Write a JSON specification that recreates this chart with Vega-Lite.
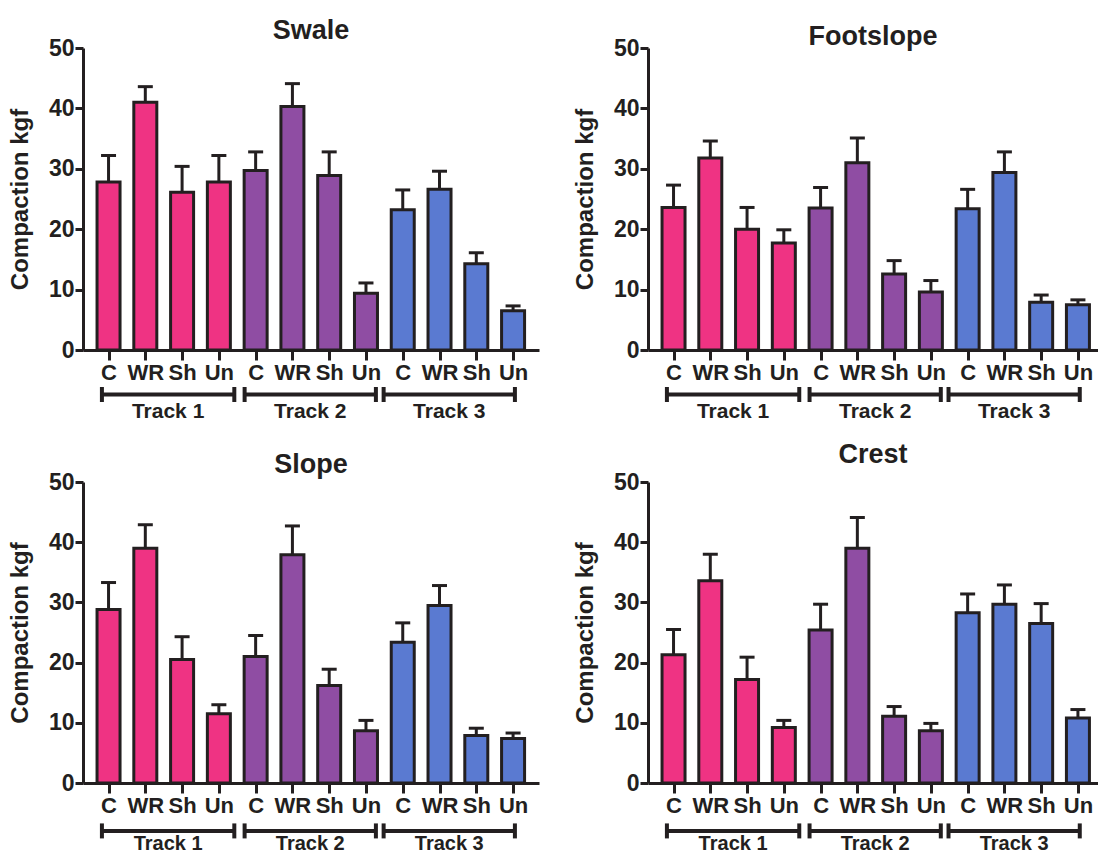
{
  "$schema": "https://vega.github.io/schema/vega-lite/v6.json",
  "background": "white",
  "padding": {"left": 8, "top": 17, "right": 0, "bottom": 0},
  "columns": 2,
  "spacing": {"row": 132, "column": 109},
  "bounds": "flush",
  "config": {
    "font": "Liberation Sans",
    "view": {"stroke": null},
    "axis": {
      "domainColor": "#231F20",
      "tickColor": "#231F20",
      "labelColor": "#231F20",
      "titleColor": "#231F20",
      "domainWidth": 3,
      "tickWidth": 3,
      "labelFontWeight": "bold",
      "titleFontWeight": "bold",
      "grid": false
    },
    "title": {"fontSize": 27, "fontWeight": "bold", "color": "#231F20"}
  },
  "datasets": {
    "bars": [
      {"site": "Swale", "track": "Track 1", "treatment": "C", "slot": 0, "mean": 27.8, "upper": 32.2},
      {"site": "Swale", "track": "Track 1", "treatment": "WR", "slot": 1, "mean": 41.0, "upper": 43.6},
      {"site": "Swale", "track": "Track 1", "treatment": "Sh", "slot": 2, "mean": 26.1, "upper": 30.4},
      {"site": "Swale", "track": "Track 1", "treatment": "Un", "slot": 3, "mean": 27.8, "upper": 32.2},
      {"site": "Swale", "track": "Track 2", "treatment": "C", "slot": 4, "mean": 29.7, "upper": 32.8},
      {"site": "Swale", "track": "Track 2", "treatment": "WR", "slot": 5, "mean": 40.3, "upper": 44.1},
      {"site": "Swale", "track": "Track 2", "treatment": "Sh", "slot": 6, "mean": 28.9, "upper": 32.8},
      {"site": "Swale", "track": "Track 2", "treatment": "Un", "slot": 7, "mean": 9.4, "upper": 11.1},
      {"site": "Swale", "track": "Track 3", "treatment": "C", "slot": 8, "mean": 23.2, "upper": 26.5},
      {"site": "Swale", "track": "Track 3", "treatment": "WR", "slot": 9, "mean": 26.6, "upper": 29.6},
      {"site": "Swale", "track": "Track 3", "treatment": "Sh", "slot": 10, "mean": 14.3, "upper": 16.1},
      {"site": "Swale", "track": "Track 3", "treatment": "Un", "slot": 11, "mean": 6.5, "upper": 7.3},
      {"site": "Footslope", "track": "Track 1", "treatment": "C", "slot": 0, "mean": 23.6, "upper": 27.3},
      {"site": "Footslope", "track": "Track 1", "treatment": "WR", "slot": 1, "mean": 31.8, "upper": 34.6},
      {"site": "Footslope", "track": "Track 1", "treatment": "Sh", "slot": 2, "mean": 20.0, "upper": 23.6},
      {"site": "Footslope", "track": "Track 1", "treatment": "Un", "slot": 3, "mean": 17.7, "upper": 19.9},
      {"site": "Footslope", "track": "Track 2", "treatment": "C", "slot": 4, "mean": 23.5, "upper": 26.9},
      {"site": "Footslope", "track": "Track 2", "treatment": "WR", "slot": 5, "mean": 31.0, "upper": 35.1},
      {"site": "Footslope", "track": "Track 2", "treatment": "Sh", "slot": 6, "mean": 12.6, "upper": 14.8},
      {"site": "Footslope", "track": "Track 2", "treatment": "Un", "slot": 7, "mean": 9.6, "upper": 11.5},
      {"site": "Footslope", "track": "Track 3", "treatment": "C", "slot": 8, "mean": 23.4, "upper": 26.6},
      {"site": "Footslope", "track": "Track 3", "treatment": "WR", "slot": 9, "mean": 29.4, "upper": 32.8},
      {"site": "Footslope", "track": "Track 3", "treatment": "Sh", "slot": 10, "mean": 7.9, "upper": 9.1},
      {"site": "Footslope", "track": "Track 3", "treatment": "Un", "slot": 11, "mean": 7.5, "upper": 8.3},
      {"site": "Slope", "track": "Track 1", "treatment": "C", "slot": 0, "mean": 28.8, "upper": 33.3},
      {"site": "Slope", "track": "Track 1", "treatment": "WR", "slot": 1, "mean": 39.0, "upper": 42.9},
      {"site": "Slope", "track": "Track 1", "treatment": "Sh", "slot": 2, "mean": 20.5, "upper": 24.3},
      {"site": "Slope", "track": "Track 1", "treatment": "Un", "slot": 3, "mean": 11.5, "upper": 13.0},
      {"site": "Slope", "track": "Track 2", "treatment": "C", "slot": 4, "mean": 21.0, "upper": 24.5},
      {"site": "Slope", "track": "Track 2", "treatment": "WR", "slot": 5, "mean": 37.9, "upper": 42.7},
      {"site": "Slope", "track": "Track 2", "treatment": "Sh", "slot": 6, "mean": 16.2, "upper": 18.9},
      {"site": "Slope", "track": "Track 2", "treatment": "Un", "slot": 7, "mean": 8.7, "upper": 10.4},
      {"site": "Slope", "track": "Track 3", "treatment": "C", "slot": 8, "mean": 23.4, "upper": 26.6},
      {"site": "Slope", "track": "Track 3", "treatment": "WR", "slot": 9, "mean": 29.5, "upper": 32.8},
      {"site": "Slope", "track": "Track 3", "treatment": "Sh", "slot": 10, "mean": 7.9, "upper": 9.1},
      {"site": "Slope", "track": "Track 3", "treatment": "Un", "slot": 11, "mean": 7.4, "upper": 8.3},
      {"site": "Crest", "track": "Track 1", "treatment": "C", "slot": 0, "mean": 21.3, "upper": 25.5},
      {"site": "Crest", "track": "Track 1", "treatment": "WR", "slot": 1, "mean": 33.6, "upper": 38.0},
      {"site": "Crest", "track": "Track 1", "treatment": "Sh", "slot": 2, "mean": 17.2, "upper": 20.9},
      {"site": "Crest", "track": "Track 1", "treatment": "Un", "slot": 3, "mean": 9.2, "upper": 10.4},
      {"site": "Crest", "track": "Track 2", "treatment": "C", "slot": 4, "mean": 25.4, "upper": 29.7},
      {"site": "Crest", "track": "Track 2", "treatment": "WR", "slot": 5, "mean": 39.0, "upper": 44.1},
      {"site": "Crest", "track": "Track 2", "treatment": "Sh", "slot": 6, "mean": 11.1, "upper": 12.7},
      {"site": "Crest", "track": "Track 2", "treatment": "Un", "slot": 7, "mean": 8.7, "upper": 9.9},
      {"site": "Crest", "track": "Track 3", "treatment": "C", "slot": 8, "mean": 28.3, "upper": 31.4},
      {"site": "Crest", "track": "Track 3", "treatment": "WR", "slot": 9, "mean": 29.7, "upper": 32.9},
      {"site": "Crest", "track": "Track 3", "treatment": "Sh", "slot": 10, "mean": 26.5, "upper": 29.8},
      {"site": "Crest", "track": "Track 3", "treatment": "Un", "slot": 11, "mean": 10.8, "upper": 12.2}
    ],
    "tracks": [
      {"track": "Track 1", "from": -0.18, "to": 3.42, "mid": 1.62},
      {"track": "Track 2", "from": 3.7, "to": 7.27, "mid": 5.485},
      {"track": "Track 3", "from": 7.48, "to": 11.05, "mid": 9.265}
    ]
  },
  "concat": [
    {
      "width": 456,
      "height": 302,
      "title": {"text": "Swale", "offset": -8},
      "layer": [
        {
          "data": {"name": "bars"},
          "transform": [{"filter": "datum.site === 'Swale'"}],
          "mark": {"type": "rule", "strokeWidth": 3, "color": "#231F20"},
          "encoding": {
            "x": {"field": "slot", "type": "quantitative", "scale": {"domain": [-0.5585, 11.569], "nice": false, "zero": false},
              "axis": {"title": null, "values": [0,1,2,3,4,5,6,7,8,9,10,11], "labelExpr": "['C','WR','Sh','Un'][datum.value % 4]", "labelFontSize": 22, "tickSize": 10, "labelPadding": 2, "labelFlush": false, "labelOverlap": false}},
            "y": {"field": "mean", "type": "quantitative", "scale": {"domain": [0, 50], "nice": false},
              "axis": {"title": "Compaction kgf", "values": [0,10,20,30,40,50], "labelFontSize": 23, "tickSize": 8, "labelPadding": 1, "titleFontSize": 24, "titlePadding": 16}},
            "y2": {"field": "upper"}
          }
        },
        {
          "data": {"name": "bars"},
          "transform": [{"filter": "datum.site === 'Swale'"}],
          "mark": {"type": "bar", "orient": "vertical", "width": 23, "stroke": "#231F20", "strokeWidth": 3},
          "encoding": {
            "x": {"field": "slot", "type": "quantitative"},
            "y": {"field": "mean", "type": "quantitative", "stack": null},
            "color": {"field": "track", "type": "nominal", "legend": null,
              "scale": {"domain": ["Track 1", "Track 2", "Track 3"], "range": ["#EF3383", "#8F4DA3", "#5A7AD1"]}}
          }
        },
        {
          "data": {"name": "bars"},
          "transform": [{"filter": "datum.site === 'Swale'"}],
          "mark": {"type": "tick", "orient": "horizontal", "size": 15, "thickness": 3, "opacity": 1, "color": "#231F20"},
          "encoding": {
            "x": {"field": "slot", "type": "quantitative"},
            "y": {"field": "upper", "type": "quantitative"}
          }
        },
        {
          "data": {"name": "tracks"},
          "mark": {"type": "rule", "strokeWidth": 4, "color": "#231F20"},
          "encoding": {
            "x": {"field": "from", "type": "quantitative"},
            "x2": {"field": "to"},
            "y": {"datum": -7.37, "type": "quantitative"}
          }
        },
        {
          "data": {"name": "tracks"},
          "mark": {"type": "tick", "orient": "vertical", "size": 15, "thickness": 4, "opacity": 1, "color": "#231F20"},
          "encoding": {
            "x": {"field": "from", "type": "quantitative"},
            "y": {"datum": -7.37, "type": "quantitative"}
          }
        },
        {
          "data": {"name": "tracks"},
          "mark": {"type": "tick", "orient": "vertical", "size": 15, "thickness": 4, "opacity": 1, "color": "#231F20"},
          "encoding": {
            "x": {"field": "to", "type": "quantitative"},
            "y": {"datum": -7.37, "type": "quantitative"}
          }
        },
        {
          "data": {"name": "tracks"},
          "mark": {"type": "text", "fontSize": 21, "fontWeight": "bold", "color": "#231F20", "baseline": "middle"},
          "encoding": {
            "x": {"field": "mid", "type": "quantitative"},
            "y": {"datum": -10.26, "type": "quantitative"},
            "text": {"field": "track"}
          }
        }
      ]
    },
    {
      "width": 450,
      "height": 302,
      "title": {"text": "Footslope", "offset": -14},
      "layer": [
        {
          "data": {"name": "bars"},
          "transform": [{"filter": "datum.site === 'Footslope'"}],
          "mark": {"type": "rule", "strokeWidth": 3, "color": "#231F20"},
          "encoding": {
            "x": {"field": "slot", "type": "quantitative", "scale": {"domain": [-0.5585, 11.41], "nice": false, "zero": false},
              "axis": {"title": null, "values": [0,1,2,3,4,5,6,7,8,9,10,11], "labelExpr": "['C','WR','Sh','Un'][datum.value % 4]", "labelFontSize": 22, "tickSize": 10, "labelPadding": 2, "labelFlush": false, "labelOverlap": false}},
            "y": {"field": "mean", "type": "quantitative", "scale": {"domain": [0, 50], "nice": false},
              "axis": {"title": "Compaction kgf", "values": [0,10,20,30,40,50], "labelFontSize": 23, "tickSize": 8, "labelPadding": 1, "titleFontSize": 24, "titlePadding": 16}},
            "y2": {"field": "upper"}
          }
        },
        {
          "data": {"name": "bars"},
          "transform": [{"filter": "datum.site === 'Footslope'"}],
          "mark": {"type": "bar", "orient": "vertical", "width": 23, "stroke": "#231F20", "strokeWidth": 3},
          "encoding": {
            "x": {"field": "slot", "type": "quantitative"},
            "y": {"field": "mean", "type": "quantitative", "stack": null},
            "color": {"field": "track", "type": "nominal", "legend": null,
              "scale": {"domain": ["Track 1", "Track 2", "Track 3"], "range": ["#EF3383", "#8F4DA3", "#5A7AD1"]}}
          }
        },
        {
          "data": {"name": "bars"},
          "transform": [{"filter": "datum.site === 'Footslope'"}],
          "mark": {"type": "tick", "orient": "horizontal", "size": 15, "thickness": 3, "opacity": 1, "color": "#231F20"},
          "encoding": {
            "x": {"field": "slot", "type": "quantitative"},
            "y": {"field": "upper", "type": "quantitative"}
          }
        },
        {
          "data": {"name": "tracks"},
          "mark": {"type": "rule", "strokeWidth": 4, "color": "#231F20"},
          "encoding": {
            "x": {"field": "from", "type": "quantitative"},
            "x2": {"field": "to"},
            "y": {"datum": -7.37, "type": "quantitative"}
          }
        },
        {
          "data": {"name": "tracks"},
          "mark": {"type": "tick", "orient": "vertical", "size": 15, "thickness": 4, "opacity": 1, "color": "#231F20"},
          "encoding": {
            "x": {"field": "from", "type": "quantitative"},
            "y": {"datum": -7.37, "type": "quantitative"}
          }
        },
        {
          "data": {"name": "tracks"},
          "mark": {"type": "tick", "orient": "vertical", "size": 15, "thickness": 4, "opacity": 1, "color": "#231F20"},
          "encoding": {
            "x": {"field": "to", "type": "quantitative"},
            "y": {"datum": -7.37, "type": "quantitative"}
          }
        },
        {
          "data": {"name": "tracks"},
          "mark": {"type": "text", "fontSize": 21, "fontWeight": "bold", "color": "#231F20", "baseline": "middle"},
          "encoding": {
            "x": {"field": "mid", "type": "quantitative"},
            "y": {"datum": -10.26, "type": "quantitative"},
            "text": {"field": "track"}
          }
        }
      ]
    },
    {
      "width": 456,
      "height": 301,
      "title": {"text": "Slope", "offset": -8},
      "layer": [
        {
          "data": {"name": "bars"},
          "transform": [{"filter": "datum.site === 'Slope'"}],
          "mark": {"type": "rule", "strokeWidth": 3, "color": "#231F20"},
          "encoding": {
            "x": {"field": "slot", "type": "quantitative", "scale": {"domain": [-0.5585, 11.569], "nice": false, "zero": false},
              "axis": {"title": null, "values": [0,1,2,3,4,5,6,7,8,9,10,11], "labelExpr": "['C','WR','Sh','Un'][datum.value % 4]", "labelFontSize": 22, "tickSize": 10, "labelPadding": 2, "labelFlush": false, "labelOverlap": false}},
            "y": {"field": "mean", "type": "quantitative", "scale": {"domain": [0, 50], "nice": false},
              "axis": {"title": "Compaction kgf", "values": [0,10,20,30,40,50], "labelFontSize": 23, "tickSize": 8, "labelPadding": 1, "titleFontSize": 24, "titlePadding": 16}},
            "y2": {"field": "upper"}
          }
        },
        {
          "data": {"name": "bars"},
          "transform": [{"filter": "datum.site === 'Slope'"}],
          "mark": {"type": "bar", "orient": "vertical", "width": 23, "stroke": "#231F20", "strokeWidth": 3},
          "encoding": {
            "x": {"field": "slot", "type": "quantitative"},
            "y": {"field": "mean", "type": "quantitative", "stack": null},
            "color": {"field": "track", "type": "nominal", "legend": null,
              "scale": {"domain": ["Track 1", "Track 2", "Track 3"], "range": ["#EF3383", "#8F4DA3", "#5A7AD1"]}}
          }
        },
        {
          "data": {"name": "bars"},
          "transform": [{"filter": "datum.site === 'Slope'"}],
          "mark": {"type": "tick", "orient": "horizontal", "size": 15, "thickness": 3, "opacity": 1, "color": "#231F20"},
          "encoding": {
            "x": {"field": "slot", "type": "quantitative"},
            "y": {"field": "upper", "type": "quantitative"}
          }
        },
        {
          "data": {"name": "tracks"},
          "mark": {"type": "rule", "strokeWidth": 4, "color": "#231F20"},
          "encoding": {
            "x": {"field": "from", "type": "quantitative"},
            "x2": {"field": "to"},
            "y": {"datum": -7.96, "type": "quantitative"}
          }
        },
        {
          "data": {"name": "tracks"},
          "mark": {"type": "tick", "orient": "vertical", "size": 15, "thickness": 4, "opacity": 1, "color": "#231F20"},
          "encoding": {
            "x": {"field": "from", "type": "quantitative"},
            "y": {"datum": -7.96, "type": "quantitative"}
          }
        },
        {
          "data": {"name": "tracks"},
          "mark": {"type": "tick", "orient": "vertical", "size": 15, "thickness": 4, "opacity": 1, "color": "#231F20"},
          "encoding": {
            "x": {"field": "to", "type": "quantitative"},
            "y": {"datum": -7.96, "type": "quantitative"}
          }
        },
        {
          "data": {"name": "tracks"},
          "mark": {"type": "text", "fontSize": 20, "fontWeight": "bold", "color": "#231F20", "baseline": "middle"},
          "encoding": {
            "x": {"field": "mid", "type": "quantitative"},
            "y": {"datum": -10.2, "type": "quantitative"},
            "text": {"field": "track"}
          }
        }
      ]
    },
    {
      "width": 450,
      "height": 301,
      "title": {"text": "Crest", "offset": 2},
      "layer": [
        {
          "data": {"name": "bars"},
          "transform": [{"filter": "datum.site === 'Crest'"}],
          "mark": {"type": "rule", "strokeWidth": 3, "color": "#231F20"},
          "encoding": {
            "x": {"field": "slot", "type": "quantitative", "scale": {"domain": [-0.5585, 11.41], "nice": false, "zero": false},
              "axis": {"title": null, "values": [0,1,2,3,4,5,6,7,8,9,10,11], "labelExpr": "['C','WR','Sh','Un'][datum.value % 4]", "labelFontSize": 22, "tickSize": 10, "labelPadding": 2, "labelFlush": false, "labelOverlap": false}},
            "y": {"field": "mean", "type": "quantitative", "scale": {"domain": [0, 50], "nice": false},
              "axis": {"title": "Compaction kgf", "values": [0,10,20,30,40,50], "labelFontSize": 23, "tickSize": 8, "labelPadding": 1, "titleFontSize": 24, "titlePadding": 16}},
            "y2": {"field": "upper"}
          }
        },
        {
          "data": {"name": "bars"},
          "transform": [{"filter": "datum.site === 'Crest'"}],
          "mark": {"type": "bar", "orient": "vertical", "width": 23, "stroke": "#231F20", "strokeWidth": 3},
          "encoding": {
            "x": {"field": "slot", "type": "quantitative"},
            "y": {"field": "mean", "type": "quantitative", "stack": null},
            "color": {"field": "track", "type": "nominal", "legend": null,
              "scale": {"domain": ["Track 1", "Track 2", "Track 3"], "range": ["#EF3383", "#8F4DA3", "#5A7AD1"]}}
          }
        },
        {
          "data": {"name": "bars"},
          "transform": [{"filter": "datum.site === 'Crest'"}],
          "mark": {"type": "tick", "orient": "horizontal", "size": 15, "thickness": 3, "opacity": 1, "color": "#231F20"},
          "encoding": {
            "x": {"field": "slot", "type": "quantitative"},
            "y": {"field": "upper", "type": "quantitative"}
          }
        },
        {
          "data": {"name": "tracks"},
          "mark": {"type": "rule", "strokeWidth": 4, "color": "#231F20"},
          "encoding": {
            "x": {"field": "from", "type": "quantitative"},
            "x2": {"field": "to"},
            "y": {"datum": -7.96, "type": "quantitative"}
          }
        },
        {
          "data": {"name": "tracks"},
          "mark": {"type": "tick", "orient": "vertical", "size": 15, "thickness": 4, "opacity": 1, "color": "#231F20"},
          "encoding": {
            "x": {"field": "from", "type": "quantitative"},
            "y": {"datum": -7.96, "type": "quantitative"}
          }
        },
        {
          "data": {"name": "tracks"},
          "mark": {"type": "tick", "orient": "vertical", "size": 15, "thickness": 4, "opacity": 1, "color": "#231F20"},
          "encoding": {
            "x": {"field": "to", "type": "quantitative"},
            "y": {"datum": -7.96, "type": "quantitative"}
          }
        },
        {
          "data": {"name": "tracks"},
          "mark": {"type": "text", "fontSize": 20, "fontWeight": "bold", "color": "#231F20", "baseline": "middle"},
          "encoding": {
            "x": {"field": "mid", "type": "quantitative"},
            "y": {"datum": -10.2, "type": "quantitative"},
            "text": {"field": "track"}
          }
        }
      ]
    }
  ]
}
